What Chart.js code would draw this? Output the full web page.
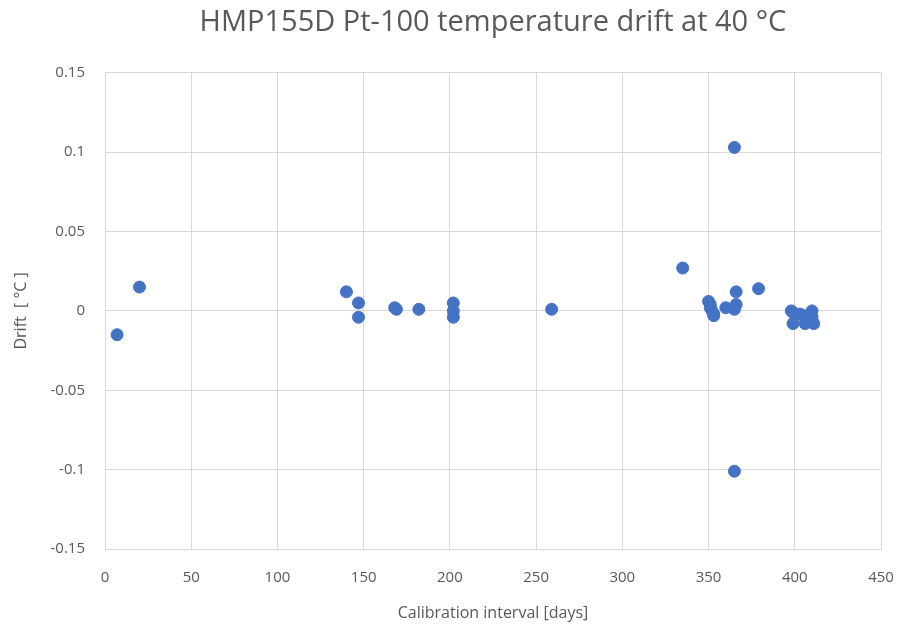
<!DOCTYPE html>
<html>
<head>
<meta charset="utf-8">
<script src="https://cdn.jsdelivr.net/npm/chart.js@4/dist/chart.umd.min.js"></script>
<style>
  html, body { margin: 0; padding: 0; background: #ffffff; }
  #wrap { width: 902px; height: 629px; }
</style>
</head>
<body>
<div id="wrap"><canvas id="driftChart" width="902" height="629"></canvas></div>
<script>
// calibration interval (days) and drift (°C)
const days = [7, 20, 140, 147, 147, 168, 169, 182, 202, 202, 202, 259, 335,
  350, 351, 351, 352, 353, 353, 360, 365, 365, 366, 366, 365, 365, 379,
  398, 399, 399, 403, 405, 406, 408, 410, 410, 411];
const drift = [-0.015, 0.015, 0.012, 0.005, -0.004, 0.002, 0.001, 0.001, 0.005, 0.000, -0.004, 0.001, 0.027,
  0.006, 0.004, 0.002, 0.000, -0.002, -0.003, 0.002, 0.103, -0.101, 0.012, 0.004, 0.002, 0.001, 0.014,
  0.000, -0.001, -0.008, -0.002, -0.003, -0.008, -0.005, 0.000, -0.004, -0.008];

const titleText = 'HMP155D Pt-100 temperature drift at 40 °C';
const xTitle = 'Calibration interval [days]';
const yTitle = 'Drift  [ °C ]';

const punti = days.map((d, i) => ({ x: d, y: drift[i] }));

const grigio = '#595959';
const griglia = '#d9d9d9';
const fontBase = "'Open Sans', sans-serif";

new Chart(document.getElementById('driftChart'), {
    type: 'scatter',
    data: {
        datasets: [{
            data: punti,
            backgroundColor: '#4472C4',
            borderColor: '#4472C4',
            pointRadius: 6,
            pointHoverRadius: 6
        }]
    },
    options: {
        responsive: false,
        animation: false,
        layout: { padding: { left: 0, right: 0, top: 0, bottom: 0 } },
        plugins: {
            legend: { display: false },
            tooltip: { enabled: false },
            title: {
                display: true,
                fullSize: false, // centrato sull'area del grafico, come in Excel
                text: titleText,
                color: grigio,
                font: { family: fontBase, size: 29, weight: 'normal' },
                padding: { top: 5, bottom: 33 }
            }
        },
        scales: {
            x: {
                type: 'linear',
                min: 0,
                max: 450,
                ticks: { stepSize: 50, color: grigio, padding: 20, font: { family: fontBase, size: 15 } },
                grid: { color: griglia, drawTicks: false, lineWidth: 1 },
                border: { color: griglia },
                title: {
                    display: true,
                    text: xTitle,
                    color: grigio,
                    font: { family: fontBase, size: 16 },
                    padding: { top: 0, bottom: 6 }
                },
                afterFit: s => { s.height = 80; s.paddingRight = 21; }
            },
            y: {
                min: -0.15,
                max: 0.15,
                ticks: {
                    stepSize: 0.05,
                    color: grigio,
                    padding: 20,
                    font: { family: fontBase, size: 15 },
                    callback: v => String(Number(v.toFixed(2)))
                },
                grid: { color: griglia, drawTicks: false, lineWidth: 1 },
                border: { color: griglia },
                title: {
                    display: true,
                    text: yTitle,
                    color: grigio,
                    font: { family: fontBase, size: 16 },
                    padding: { top: 12, bottom: 0 }
                },
                afterFit: s => { s.width = 105; }
            }
        }
    }
});
</script>
</body>
</html>
